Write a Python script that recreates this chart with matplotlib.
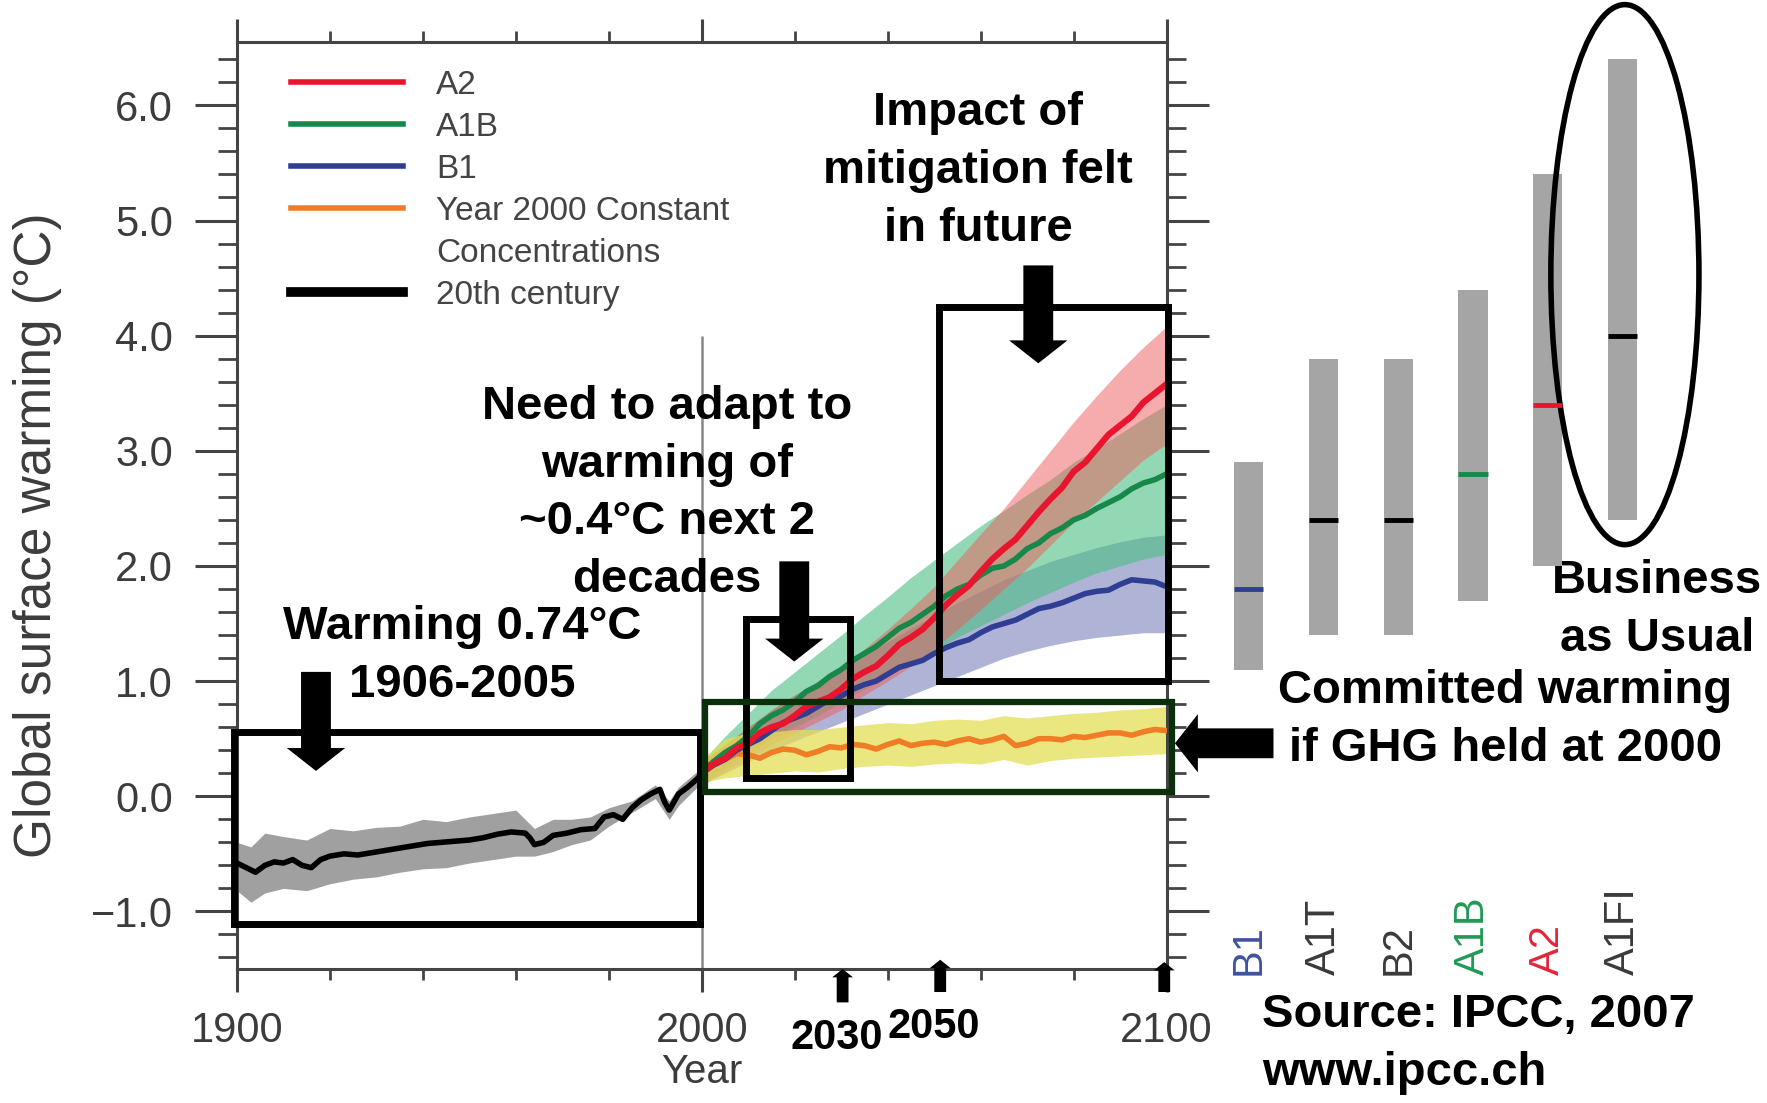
import numpy as np
import matplotlib.pyplot as plt
from matplotlib.lines import Line2D
from matplotlib.patches import Rectangle, Ellipse
from matplotlib.ticker import MultipleLocator, FuncFormatter

plt.rcParams['font.family'] = ['Liberation Sans', 'DejaVu Sans']

# 20th century (observed) mean and spread
yrs20 = [1900, 1902, 1904, 1906, 1908, 1910, 1912, 1914, 1916, 1918, 1920, 1923, 1926,
         1929, 1932, 1935, 1938, 1941, 1944, 1947, 1950, 1953, 1956, 1959, 1962, 1963,
         1964, 1966, 1968, 1971, 1974, 1977, 1979, 1981, 1983, 1985, 1987, 1989, 1991,
         1992, 1993, 1995, 1997, 1999, 2000]
obs_mean = [-0.58, -0.62, -0.66, -0.60, -0.57, -0.58, -0.55, -0.60, -0.62, -0.55, -0.52,
            -0.50, -0.51, -0.49, -0.47, -0.45, -0.43, -0.41, -0.40, -0.39, -0.38, -0.36,
            -0.33, -0.31, -0.32, -0.36, -0.42, -0.40, -0.34, -0.32, -0.29, -0.28, -0.18,
            -0.16, -0.20, -0.10, -0.03, 0.02, 0.06, -0.05, -0.12, 0.02, 0.08, 0.15, 0.20]
band_yrs20 = [1900, 1903, 1906, 1910, 1915, 1920, 1925, 1930, 1935, 1940, 1945, 1950,
              1955, 1960, 1964, 1968, 1972, 1976, 1980, 1985, 1990, 1993, 1995, 2000]
obs_hi = [-0.40, -0.44, -0.32, -0.35, -0.38, -0.28, -0.30, -0.27, -0.26, -0.20, -0.22,
          -0.18, -0.15, -0.12, -0.28, -0.20, -0.20, -0.18, -0.10, -0.04, 0.10, -0.04, 0.08, 0.25]
obs_lo = [-0.82, -0.92, -0.84, -0.80, -0.82, -0.76, -0.72, -0.70, -0.66, -0.63, -0.62,
          -0.58, -0.55, -0.52, -0.52, -0.48, -0.42, -0.38, -0.26, -0.14, -0.02, -0.20, -0.08, 0.12]

# projected means 2000-2100 (2.5-year steps)
yrs_line = [2000, 2002.5, 2005, 2007.5, 2010, 2012.5, 2015, 2017.5, 2020, 2022.5, 2025,
            2027.5, 2030, 2032.5, 2035, 2037.5, 2040, 2042.5, 2045, 2047.5, 2050,
            2052.5, 2055, 2057.5, 2060, 2062.5, 2065, 2067.5, 2070, 2072.5, 2075,
            2077.5, 2080, 2082.5, 2085, 2087.5, 2090, 2092.5, 2095, 2097.5, 2100]
a2_mean = [0.20, 0.28, 0.33, 0.42, 0.46, 0.55, 0.60, 0.63, 0.70, 0.78, 0.82,
           0.86, 0.93, 1.02, 1.08, 1.13, 1.22, 1.32, 1.38, 1.45, 1.55,
           1.66, 1.75, 1.83, 1.95, 2.06, 2.15, 2.23, 2.35, 2.47, 2.58,
           2.68, 2.82, 2.90, 3.02, 3.14, 3.22, 3.30, 3.42, 3.50, 3.58]
a1b_mean = [0.20, 0.30, 0.38, 0.44, 0.52, 0.63, 0.70, 0.75, 0.82, 0.91, 0.96,
            1.04, 1.10, 1.18, 1.24, 1.30, 1.38, 1.46, 1.51, 1.58, 1.65,
            1.74, 1.80, 1.84, 1.92, 1.98, 2.00, 2.06, 2.15, 2.20, 2.28,
            2.33, 2.40, 2.44, 2.50, 2.55, 2.60, 2.67, 2.72, 2.75, 2.80]
b1_mean = [0.20, 0.27, 0.32, 0.40, 0.45, 0.50, 0.57, 0.64, 0.68, 0.72, 0.78,
           0.84, 0.87, 0.93, 0.97, 1.00, 1.06, 1.12, 1.15, 1.18, 1.24,
           1.29, 1.33, 1.36, 1.42, 1.47, 1.50, 1.53, 1.58, 1.63, 1.65,
           1.68, 1.72, 1.76, 1.78, 1.79, 1.84, 1.88, 1.87, 1.86, 1.82]
const_mean = [0.22, 0.30, 0.32, 0.37, 0.36, 0.33, 0.38, 0.41, 0.40, 0.36, 0.39,
              0.43, 0.42, 0.45, 0.44, 0.41, 0.45, 0.48, 0.44, 0.46, 0.47,
              0.45, 0.48, 0.50, 0.47, 0.49, 0.52, 0.44, 0.46, 0.50, 0.50,
              0.49, 0.52, 0.51, 0.53, 0.55, 0.55, 0.53, 0.56, 0.58, 0.57]

# projected spread (5-year steps)
yrs_band = [2000, 2005, 2010, 2015, 2020, 2025, 2030, 2035, 2040, 2045, 2050,
            2055, 2060, 2065, 2070, 2075, 2080, 2085, 2090, 2095, 2100]
a2_hi = [0.30, 0.45, 0.60, 0.75, 0.88, 1.00, 1.12, 1.28, 1.45, 1.63, 1.82,
         2.05, 2.28, 2.50, 2.75, 3.00, 3.25, 3.48, 3.70, 3.90, 4.08]
a2_lo = [0.10, 0.22, 0.33, 0.45, 0.55, 0.65, 0.75, 0.88, 1.00, 1.13, 1.28,
         1.45, 1.62, 1.80, 1.98, 2.18, 2.38, 2.56, 2.74, 2.92, 3.06]
a1b_hi = [0.30, 0.52, 0.72, 0.92, 1.08, 1.24, 1.40, 1.57, 1.73, 1.90, 2.05,
          2.20, 2.35, 2.48, 2.62, 2.75, 2.90, 3.02, 3.15, 3.28, 3.40]
a1b_lo = [0.10, 0.25, 0.38, 0.50, 0.60, 0.70, 0.82, 0.93, 1.05, 1.15, 1.27,
          1.38, 1.48, 1.58, 1.68, 1.77, 1.86, 1.94, 2.00, 2.06, 2.10]
b1_hi = [0.30, 0.45, 0.60, 0.75, 0.88, 1.00, 1.10, 1.22, 1.34, 1.46, 1.57,
         1.68, 1.78, 1.88, 1.96, 2.04, 2.10, 2.16, 2.21, 2.25, 2.27]
b1_lo = [0.10, 0.20, 0.30, 0.40, 0.48, 0.56, 0.64, 0.72, 0.80, 0.88, 0.96,
         1.04, 1.12, 1.20, 1.26, 1.31, 1.35, 1.38, 1.40, 1.42, 1.42]
const_hi = [0.32, 0.50, 0.55, 0.56, 0.58, 0.58, 0.60, 0.62, 0.64, 0.63, 0.66,
            0.67, 0.66, 0.70, 0.68, 0.70, 0.72, 0.73, 0.75, 0.76, 0.78]
const_lo = [0.12, 0.16, 0.18, 0.20, 0.22, 0.21, 0.24, 0.26, 0.27, 0.26, 0.28,
            0.29, 0.28, 0.32, 0.27, 0.31, 0.33, 0.34, 0.35, 0.36, 0.37]

# likely ranges at 2090-2099
scenarios = ['B1', 'A1T', 'B2', 'A1B', 'A2', 'A1FI']
range_lo = [1.1, 1.4, 1.4, 1.7, 2.0, 2.4]
range_hi = [2.9, 3.8, 3.8, 4.4, 5.4, 6.4]
best_est = [1.8, 2.4, 2.4, 2.8, 3.4, 4.0]

RED = '#e8152e'
GREEN = '#17884a'
BLUE = '#2f3e92'
ORANGE = '#f07d26'
best_colors = [BLUE, 'black', 'black', GREEN, RED, 'black']
label_colors = ['#3f51a3', '#3a3a3a', '#3a3a3a', '#1f9a55', '#e3263a', '#3a3a3a']
AXC = '#444444'

fig = plt.figure(figsize=(17.67, 11.03), dpi=100)
ax = fig.add_axes([0.1341, 0.1215, 0.5261, 0.8404])

# bands
ax.fill_between(band_yrs20, obs_lo, obs_hi, color='#969696', alpha=0.9, lw=0, zorder=1)
ax.fill_between(yrs_band, b1_lo, b1_hi, color='#8e93c4', alpha=0.7, lw=0, zorder=1)
ax.fill_between(yrs_band, a1b_lo, a1b_hi, color='#4cbf84', alpha=0.6, lw=0, zorder=1)
ax.fill_between(yrs_band, a2_lo, a2_hi, color='#ef5b5b', alpha=0.5, lw=0, zorder=1)
ax.fill_between(yrs_band, const_lo, const_hi, color='#e5df55', alpha=0.75, lw=0, zorder=1)

# lines
ax.plot(yrs20, obs_mean, color='black', lw=4, zorder=3)
ax.plot(yrs_line, const_mean, color=ORANGE, lw=4, zorder=3)
ax.plot(yrs_line, b1_mean, color=BLUE, lw=4, zorder=3)
ax.plot(yrs_line, a1b_mean, color=GREEN, lw=4, zorder=3)
ax.plot(yrs_line, a2_mean, color=RED, lw=4.5, zorder=4)

ax.vlines(2000, -1.5, 4.0, color='#888888', lw=1.8, zorder=0)

ax.set_xlim(1900, 2100)
ax.set_ylim(-1.5, 6.55)
ax.xaxis.set_major_locator(MultipleLocator(100))
ax.xaxis.set_minor_locator(MultipleLocator(20))
ax.yaxis.set_major_locator(MultipleLocator(1))
ax.yaxis.set_minor_locator(MultipleLocator(0.2))
ax.yaxis.set_major_formatter(FuncFormatter(lambda v, p: f'{v:.1f}'.replace('-', '\u2212')))
ax.tick_params(axis='x', which='major', direction='out', top=True, bottom=True,
               length=16.5, width=2.2, color=AXC, labelsize=30, labelcolor='#3c3c3c', pad=14)
ax.tick_params(axis='x', which='minor', direction='out', top=True, bottom=True,
               length=8, width=2, color=AXC)
ax.tick_params(axis='y', which='major', direction='out', left=True, right=True,
               length=30, width=2.2, color=AXC, labelsize=30, labelcolor='#3c3c3c', pad=16)
ax.tick_params(axis='y', which='minor', direction='out', left=True, right=True,
               length=14, width=2, color=AXC)
for s in ax.spines.values():
    s.set_color(AXC)
    s.set_linewidth(2.2)

ax.set_ylabel('Global surface warming (\u00b0C)', fontsize=37, color='#3c3c3c')
ax.yaxis.set_label_coords(-0.188, 0.468)
ax.set_xlabel('Year', fontsize=29, color='#3c3c3c')
ax.xaxis.set_label_coords(0.5, -0.091)

# legend
handles = [Line2D([], [], color=RED, lw=4), Line2D([], [], color=GREEN, lw=4),
           Line2D([], [], color=BLUE, lw=4), Line2D([], [], color=ORANGE, lw=4),
           Line2D([], [], color='none'), Line2D([], [], color='black', lw=7)]
labels = ['A2', 'A1B', 'B1', 'Year 2000 Constant', 'Concentrations', '20th century']
leg = ax.legend(handles, labels, loc='upper left', bbox_to_anchor=(0.058, 0.970),
                frameon=False, fontsize=24, handlelength=3.36, handletextpad=1.0,
                labelspacing=0.33, borderpad=0, borderaxespad=0)
for t in leg.get_texts():
    t.set_color('#444444')

# boxes
ax.add_patch(Rectangle((1899.3, -1.11), 100.4, 1.665, fill=False, ec='black', lw=5, clip_on=False, zorder=5))
ax.add_patch(Rectangle((2009.5, 0.16), 22.4, 1.38, fill=False, ec='black', lw=5, clip_on=False, zorder=5))
ax.add_patch(Rectangle((2051.1, 1.0), 49.1, 3.25, fill=False, ec='black', lw=5, clip_on=False, zorder=5))
ax.add_patch(Rectangle((2000.7, 0.04), 100.4, 0.78, fill=False, ec='#0b2e0b', lw=4.5, clip_on=False, zorder=5))

# arrows
big = dict(arrowstyle='simple,head_length=16.5,head_width=42,tail_width=21.5',
           fc='black', ec='black', lw=0, shrinkA=0, shrinkB=0, mutation_scale=1)
small = dict(arrowstyle='simple,head_length=6,head_width=15,tail_width=8.5',
             fc='black', ec='black', lw=0, shrinkA=0, shrinkB=0, mutation_scale=1)
for tip, tail, props in [((1917, 0.22), (1917, 1.08), big),
                         ((2019.9, 1.17), (2019.9, 2.04), big),
                         ((2072.4, 3.76), (2072.4, 4.61), big),
                         ((2101.8, 0.46), (2123.0, 0.46), big),
                         ((2030.3, -1.50), (2030.3, -1.79), small),
                         ((2051.3, -1.42), (2051.3, -1.70), small),
                         ((2099.5, -1.44), (2099.5, -1.70), small)]:
    ax.annotate('', xy=tip, xytext=tail, arrowprops=props, annotation_clip=False, zorder=6)

bold = dict(fontsize=34, fontweight='bold', color='black', ha='center', va='center',
            linespacing=1.4, zorder=7)
ax.text(2059.5, 5.43, 'Impact of\nmitigation felt\nin future', **bold)
ax.text(1992.5, 2.63, 'Need to adapt to\nwarming of\n~0.4\u00b0C next 2\ndecades', **bold)
ax.text(1948.4, 1.22, 'Warming 0.74\u00b0C\n1906-2005', **bold)
ax.text(2172.9, 0.66, 'Committed warming\nif GHG held at 2000', **bold)
ax.text(2205.5, 1.62, 'Business\nas Usual', **bold)
ax.text(2120.5, -2.15, 'Source: IPCC, 2007\nwww.ipcc.ch', fontsize=34, fontweight='bold',
        ha='left', va='center', linespacing=1.4)
ax.text(2029.0, -2.10, '2030', fontsize=30, fontweight='bold', ha='center', va='center')
ax.text(2050.0, -2.00, '2050', fontsize=30, fontweight='bold', ha='center', va='center')

# right panel: likely ranges
ax2 = fig.add_axes([0.6855, 0.1215, 0.2963, 0.8404])
xpos = np.arange(len(scenarios))
ax2.bar(xpos, np.array(range_hi) - np.array(range_lo), bottom=range_lo, width=0.39,
        color='#a5a5a5', lw=0)
ax2.hlines(best_est, xpos - 0.195, xpos + 0.195, colors=best_colors, lw=3.5)
for i, name in enumerate(scenarios):
    ax2.text(i, -1.55, name, rotation=90, ha='center', va='bottom', fontsize=30,
             color=label_colors[i])
ax2.add_patch(Ellipse((5.03, 4.53), 1.98, 4.69, fill=False, ec='black', lw=4, clip_on=False))
ax2.set_xlim(-0.5, 6.5)
ax2.set_ylim(-1.5, 6.55)
ax2.axis('off')

fig.savefig('out.png', dpi=100)
